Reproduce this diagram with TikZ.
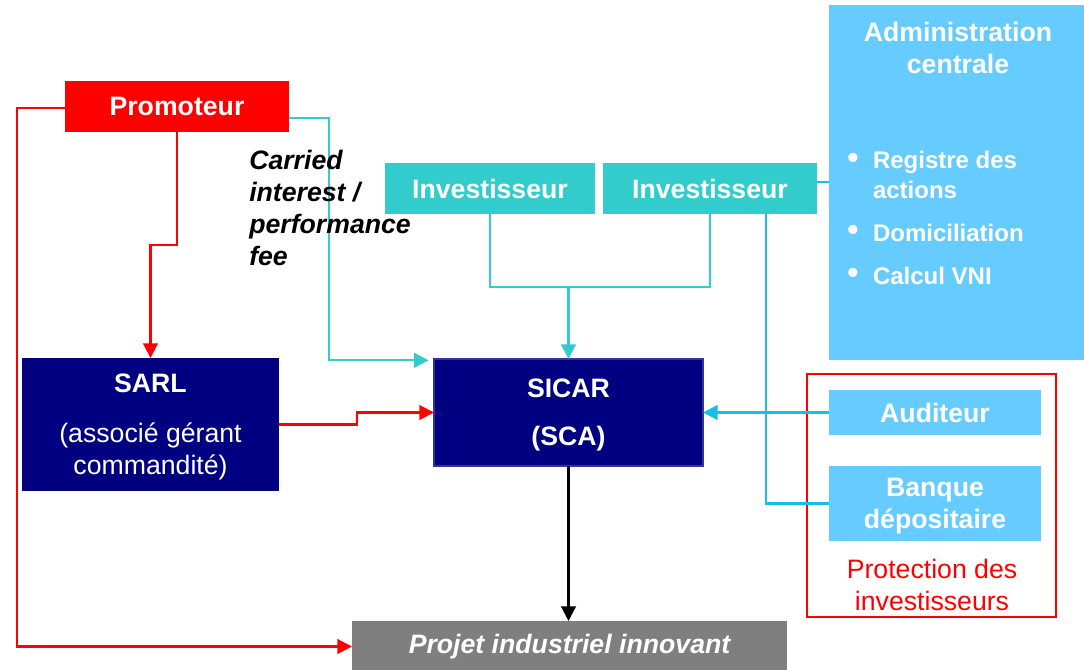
\documentclass[tikz,border=0pt]{standalone}
\usepackage{fontspec}
\setmainfont{Liberation Sans}
\usetikzlibrary{arrows.meta,calc}
\definecolor{promred}{HTML}{FF0000}
\definecolor{teal}{HTML}{33CCCC}
\definecolor{sky}{HTML}{66CCFF}
\definecolor{navy}{HTML}{000080}
\definecolor{navyedge}{HTML}{333399}
\definecolor{projgray}{HTML}{7F7F7F}
\definecolor{cyanline}{HTML}{19BEE6}
\tikzset{
  x=0.75pt, y=-0.75pt,
  box/.style={inner sep=0pt, outer sep=0pt, text=white, align=center,
    font=\bfseries\fontsize{20}{24}\selectfont},
  bul/.style={box, font=\bfseries\fontsize{18}{22.5}\selectfont},
  dot/.style={box, font=\bfseries\fontsize{24}{24}\selectfont},
  plain/.style={font=\fontsize{20}{24}\selectfont},
  conn/.style={line width=1.6pt},
  tip/.style={-{Triangle[length=11pt,width=11pt]}},
}
\begin{document}
\begin{tikzpicture}
\useasboundingbox (0,0) rectangle (1084,670);
\fill[white] (0,0) rectangle (1084,670);

% boxes
\node[box, fill=promred, minimum width=168pt, minimum height=38.25pt] (prom) at (177,106.5) {Promoteur};
\node[box, fill=teal, minimum width=157.5pt, minimum height=38.25pt] (inv1) at (490,188.5) {Investisseur};
\node[box, fill=teal, minimum width=160.5pt, minimum height=38.25pt] (inv2) at (710,188.5) {Investisseur};
\node[box, fill=sky, minimum width=192.75pt, minimum height=266.25pt] (admin) at (957.5,182.5) {};
\node[box] (admtitle) at (958,48) {Administration\\centrale};
\node[dot] (b1) at (853,161) {•};
\node[bul, align=left, anchor=west] (t1) at (873,175) {Registre des\\actions};
\node[dot] (b2) at (853,233) {•};
\node[bul, anchor=west] (t2) at (873,233) {Domiciliation};
\node[dot] (b3) at (853,276) {•};
\node[bul, anchor=west] (t3) at (873,276) {Calcul VNI};

\node[box, fill=navy, text depth=-1pt, minimum width=192.75pt, minimum height=99.75pt] (sarl) at (150.5,424.5) {SARL\\[13.5pt]{\mdseries (associé gérant}\\{\mdseries commandité)}};
\node[box, fill=navy, draw=navyedge, line width=1.2pt, text depth=-4.5pt, minimum width=201.75pt, minimum height=80.25pt] (sicar) at (568.5,412.5) {SICAR\\[12pt](SCA)};

\node[inner sep=0pt, outer sep=0pt, draw=promred, line width=1.6pt, minimum width=186.75pt, minimum height=182.25pt] (frame) at (931.5,495.5) {};
\node[box, fill=sky, minimum width=159pt, minimum height=33.75pt] (aud) at (935,412.5) {Auditeur};
\node[box, fill=sky, text depth=-15pt, minimum width=159pt, minimum height=56.25pt] (banque) at (935,503.5) {Banque\\dépositaire};
\node[plain, text=promred, align=center, inner sep=0pt] (prot) at (932,585) {Protection des\\investisseurs};

\node[box, fill=projgray, font=\bfseries\itshape\fontsize{20}{24}\selectfont, minimum width=326.25pt, minimum height=38.25pt] (projet) at (569.5,646.5) {Projet industriel innovant};

% connectors
\coordinate (j) at (568.5,287);
\draw[conn, promred, tip] ([yshift=-1pt]prom.west) -- ++(-48,0) |- (projet.west);
\draw[conn, promred, tip] (prom.south) -- ++(0,113) -| (sarl.north);
\draw[conn, teal, tip, shorten >=4pt] ([yshift=-8.6pt]prom.east) -- ++(40,0) |- ([yshift=-1pt]sicar.north west);
\draw[conn, promred, tip] (sarl.east) -- ++(78,0) |- (sicar.west);
\draw[conn, teal] (inv1.south) |- (j) -| (inv2.south);
\draw[conn, teal, tip] (j) -- (sicar.north);
\draw[conn, cyanline] ([xshift=42pt]inv2.south) |- (banque.west);
\draw[conn, cyanline] ([yshift=4.8pt]inv2.east) -- ([yshift=4.8pt]inv2.east -| admin.west);
\draw[conn, cyanline, tip] (aud.west) -- (aud.west -| sicar.east);
\draw[conn, black, tip] (sicar.south) -- (sicar.south |- projet.north);

\node[font=\bfseries\itshape\fontsize{20}{24}\selectfont, align=left, anchor=west, inner sep=0pt] (carried) at (249,208) {Carried\\interest /\\performance\\fee};
\end{tikzpicture}
\end{document}
